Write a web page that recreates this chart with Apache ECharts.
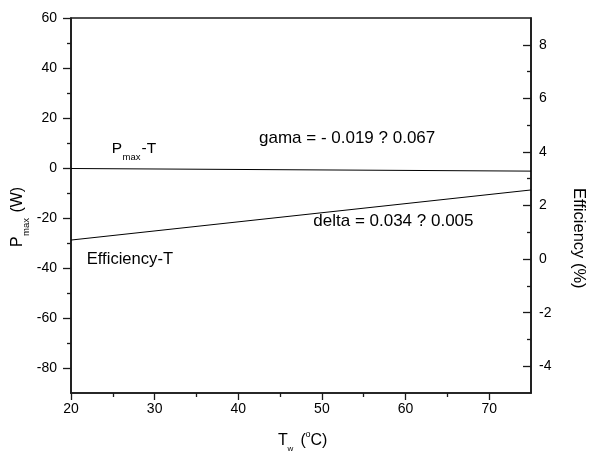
<!DOCTYPE html>
<html>
<head>
<meta charset="utf-8">
<script src="https://cdn.jsdelivr.net/npm/echarts@6/dist/echarts.min.js"></script>
<style>
  html, body { margin: 0; padding: 0; background: #fff; }
  #chart { width: 590px; height: 451px; }
</style>
</head>
<body>
<div id="chart"></div>
<script>
// Water temperature (°C) at the ends of the fitted lines
const temps = [20, 75];
// Linear fit of maximum power (W) vs temperature
const pmaxFit = [-0.2, -1.25];
// Linear fit of efficiency (%) vs temperature
const effFit = [0.71, 2.58];

// Tick positions
const xMajor = [20, 30, 40, 50, 60, 70];
const xMinor = [25, 35, 45, 55, 65];
const pMajor = [60, 40, 20, 0, -20, -40, -60, -80];
const pMinor = [50, 30, 10, -10, -30, -50, -70];
const eMajor = [8, 6, 4, 2, 0, -2, -4];
const eMinor = [7, 5, 3, 1, -1, -3];

// Annotation strings
const gamaLabel = 'gama = - 0.019 ? 0.067';
const deltaLabel = 'delta = 0.034 ? 0.005';
const effLabel = 'Efficiency-T';

const FONT = '"Liberation Sans", Arial, Helvetica, sans-serif';
const AX = '#1a1a1a';

const chart = echarts.init(document.getElementById('chart'), null, { renderer: 'canvas' });

function pairs(xs, ys) { return xs.map((x, i) => [x, ys[i]]); }

// text placed by its baseline
function txt(x, base, str, fs, extra) {
  return Object.assign({
    type: 'text', x: x, y: base - 0.31 * fs,
    style: {
      text: str, fontSize: fs, fontFamily: FONT, fill: '#000',
      align: 'left', verticalAlign: 'middle',
      textAlign: 'left', textVerticalAlign: 'middle'
    }
  }, extra || {});
}

const axisLineStyle = { show: true, onZero: false, lineStyle: { color: AX, width: 1.6 } };
const hiddenLine = { show: false, onZero: false };
const labelStyle = { color: '#000', fontSize: 14, fontFamily: FONT };

const option = {
  backgroundColor: '#fff',
  animation: false,
  grid: { left: 71, right: 59, top: 18, bottom: 58, containLabel: false, outerBoundsMode: 'none',
          show: true, borderColor: AX, borderWidth: 1.6, backgroundColor: 'transparent' },
  xAxis: [
    {
      type: 'value', min: 20, max: 75, position: 'bottom',
      axisLine: axisLineStyle,
      axisTick: { show: true, inside: false, length: 7, lineStyle: { color: AX, width: 1.3 }, customValues: xMajor },
      axisLabel: Object.assign({ margin: 9, customValues: xMajor }, labelStyle),
      splitLine: { show: false }
    },
    {
      type: 'value', min: 20, max: 75, position: 'bottom', offset: 0,
      axisLine: hiddenLine,
      axisTick: { show: true, inside: false, length: 4, lineStyle: { color: AX, width: 1.3 }, customValues: xMinor },
      axisLabel: { show: false },
      splitLine: { show: false }
    }
  ],
  yAxis: [
    {
      type: 'value', min: -90, max: 60, position: 'left',
      axisLine: axisLineStyle,
      axisTick: { show: true, inside: false, length: 8, lineStyle: { color: AX, width: 1.3 }, customValues: pMajor },
      axisLabel: Object.assign({ margin: 14, customValues: pMajor }, labelStyle),
      splitLine: { show: false }
    },
    {
      type: 'value', min: -90, max: 60, position: 'left', offset: 0,
      axisLine: hiddenLine,
      axisTick: { show: true, inside: false, length: 4, lineStyle: { color: AX, width: 1.3 }, customValues: pMinor },
      axisLabel: { show: false },
      splitLine: { show: false }
    },
    {
      type: 'value', min: -5, max: 9, position: 'right', offset: 0,
      axisLine: axisLineStyle,
      axisTick: { show: true, inside: true, length: 8, lineStyle: { color: AX, width: 1.3 }, customValues: eMajor },
      axisLabel: Object.assign({ margin: 8, customValues: eMajor }, labelStyle),
      splitLine: { show: false }
    },
    {
      type: 'value', min: -5, max: 9, position: 'right', offset: 0,
      axisLine: hiddenLine,
      axisTick: { show: true, inside: true, length: 4, lineStyle: { color: AX, width: 1.3 }, customValues: eMinor },
      axisLabel: { show: false },
      splitLine: { show: false }
    }
  ],
  series: [
    {
      name: 'Pmax-T', type: 'line', xAxisIndex: 0, yAxisIndex: 0,
      data: pairs(temps, pmaxFit), showSymbol: false, symbol: 'none',
      lineStyle: { color: '#000', width: 1 }, silent: true
    },
    {
      name: 'Efficiency-T', type: 'line', xAxisIndex: 0, yAxisIndex: 2,
      data: pairs(temps, effFit), showSymbol: false, symbol: 'none',
      lineStyle: { color: '#000', width: 1 }, silent: true
    }
  ],
  graphic: [
    // P_max-T
    txt(111.7, 153.3, 'P', 15.5),
    txt(122.5, 160.5, 'max', 9.5),
    txt(141.5, 153.3, '-T', 15.5),
    txt(259, 143.3, gamaLabel, 17),
    txt(313.3, 226.7, deltaLabel, 17),
    txt(86.7, 265, effLabel, 16.6),
    // left axis title, reading upward
    {
      type: 'group', x: 23, y: 247, rotation: Math.PI / 2,
      children: [
        txt(0, 0, 'P', 16),
        txt(11, 6.5, 'max', 9.5),
        txt(30, 0, ' (W)', 16)
      ]
    },
    // right axis title, reading downward
    {
      type: 'group', x: 573, y: 188, rotation: -Math.PI / 2,
      children: [ txt(0, 0, 'Efficiency (%)', 16.5) ]
    },
    // bottom axis title
    txt(278, 446, 'T', 16),
    txt(287.5, 451, 'w', 8),
    txt(296, 446, ' (', 16),
    txt(305.5, 437, 'o', 9),
    txt(310.5, 446, 'C)', 16)
  ]
};

chart.setOption(option);
</script>
</body>
</html>
